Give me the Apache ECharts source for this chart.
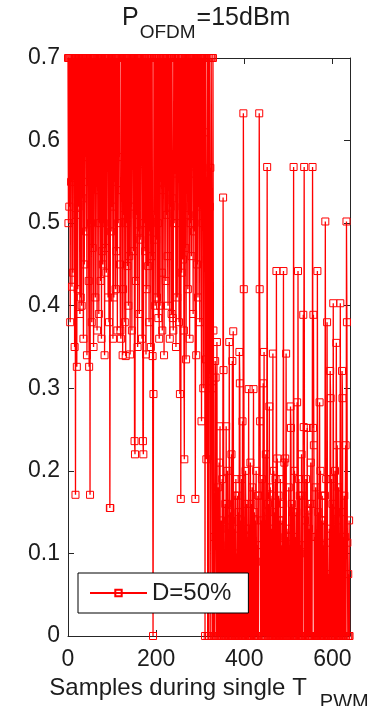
<!DOCTYPE html>
<html>
<head>
<meta charset="utf-8">
<script src="https://cdn.jsdelivr.net/npm/echarts@6/dist/echarts.min.js"></script>
<style>
html,body{margin:0;padding:0;background:#fff;overflow:hidden;}
#chart{width:378px;height:706px;}
</style>
</head>
<body>
<div id="chart"></div>
<script>
// Samples 0..325 (first part of the PWM period)
var firstPart = [
0.7,0.5,0.7,0.52,0.7,0.38,0.7,0.55,0.7,0.423,0.7,0.44,0.7,0.6,0.7,0.35,0.7,0.171,0.7,0.51,
0.326,0.7,0.42,0.7,0.52,0.7,0.7,0.39,0.7,0.41,0.7,0.40,0.7,0.53,0.7,0.36,0.7,0.45,0.7,0.58,
0.7,0.49,0.7,0.34,0.7,0.55,0.7,0.43,0.326,0.7,0.171,0.7,0.5,0.7,0.38,0.7,0.47,0.7,0.35,0.7,
0.56,0.7,0.41,0.7,0.6,0.7,0.37,0.7,0.54,0.7,0.39,0.7,0.5,0.7,0.43,0.7,0.36,0.7,0.466,0.45,
0.7,0.5,0.7,0.34,0.7,0.47,0.7,0.44,0.7,0.6,0.7,0.41,0.7,0.38,0.7,0.155,0.155,0.7,0.49,0.7,
0.52,0.7,0.36,0.7,0.41,0.7,0.55,0.7,0.42,0.7,0.466,0.7,0.37,0.7,0.5,0.7,0.58,0.7,0.45,0.37,
0.36,0.7,0.54,0.7,0.34,0.42,0.7,0.51,0.7,0.38,0.7,0.339,0.7,0.5,0.7,0.448,0.7,0.4,0.7,0.46,
0.7,0.341,0.7,0.52,0.7,0.37,0.7,0.57,0.7,0.466,0.7,0.236,0.22,0.7,0.43,0.7,0.51,0.7,0.35,0.7,
0.49,0.7,0.39,0.7,0.48,0.7,0.6,0.7,0.36,0.7,0.236,0.22,0.7,0.5,0.7,0.466,0.7,0.341,0.7,0.42,
0.7,0.52,0.448,0.7,0.38,0.7,0.49,0.7,0.35,0.7,0.46,0.7,0.339,0,0.293,0.7,0.51,0.7,0.4,0.7,
0.48,0.7,0.41,0.7,0.5,0.385,0.7,0.36,0.7,0.40,0.7,0.55,0.7,0.44,0.37,0.7,0.54,0.7,0.34,0.7,
0.58,0.7,0.43,0.7,0.51,0.7,0.46,0.40,0.7,0.55,0.7,0.36,0.7,0.52,0.7,0.39,0.7,0.53,0.385,0.37,
0.7,0.5,0.7,0.56,0.7,0.35,0.7,0.5,0.41,0.7,0.6,0.7,0.38,0.7,0.293,0.7,0.166,0.7,0.44,0.7,
0.52,0.456,0.7,0.37,0.214,0.7,0.47,0.7,0.335,0.7,0.55,0.7,0.42,0.7,0.51,0.7,0.36,0.7,0.5,0.7,
0.46,0.7,0.6,0.7,0.39,0.7,0.49,0.7,0.56,0.166,0.7,0.34,0.7,0.45,0.7,0.41,0.7,0.52,0.7,0.38,
0.7,0.55,0.7,0.26,0.7,0.5,0.7,0.3,0.7,0.61,0.7,0,0.7,0.335,0.214,0.456,0.7,0,0.457,0.7,
0,0.7,0.52,0.567,0,0.7
];
// Samples 326..639 (second part of the PWM period)
var secondPart = [
0.7,0.30,0,0.7,0.37,0,0.12,0,0.333,0.313,0.15,0,0.356,0,0.18,0.12,0,0.21,0,0.254,
0,0.14,0.13,0,0.19,0,0.531,0.322,0,0.1,0,0.16,0,0.254,0,0.16,0.2,0,0.11,0,
0.356,0,0.15,0,0.14,0.22,0,0.333,0,0.369,0,0.13,0,0.17,0,0.19,0,0.1,0,0.17,
0,0.15,0,0.344,0.306,0,0.14,0,0.19,0,0.26,0,0.633,0.42,0,0.12,0,0.2,0.13,0,
0.16,0,0.12,0,0.299,0,0.13,0,0.21,0,0.16,0,0.18,0,0.1,0.299,0,0.15,0,0.14,
0,0.2,0,0.11,0,0.17,0,0.17,0.633,0.42,0.26,0,0.14,0,0.19,0,0.09,0.306,0,0.344,
0,0.12,0,0.22,0,0.15,0.568,0,0.16,0,0.1,0.278,0,0.18,0,0.13,0,0.17,0,0.342,
0,0.2,0,0.15,0,0.19,0,0.442,0,0.215,0.12,0,0.17,0,0.14,0,0.19,0,0.11,0,
0.14,0,0.16,0.442,0,0.21,0,0.215,0,0.342,0,0.13,0,0.12,0,0.18,0,0.1,0,0.278,
0.252,0,0.16,0,0.15,0,0.568,0,0.2,0,0.12,0,0.15,0,0.283,0,0.442,0,0.19,0,
0.17,0,0.11,0,0.22,0,0.17,0,0.389,0.253,0.568,0,0.14,0,0.19,0,0.1,0.252,0,0.152,
0,0.13,0,0.16,0,0.21,0,0.16,0,0.568,0.252,0.389,0.231,0,0.12,0,0.18,0,0.12,0,
0.442,0,0.15,0,0.1,0.283,0,0.2,0,0.14,0,0.17,0,0.11,0,0.14,0,0.17,0.502,0,
0.19,0,0.38,0.113,0,0.075,0,0.13,0,0.321,0.288,0,0.19,0,0.16,0,0.403,0,0.12,0,
0.2,0,0.15,0.355,0,0.231,0.14,0,0.18,0,0.1,0,0.403,0,0.15,0,0.321,0.288,0,0.12,
0,0.17,0,0.12,0.231,0,0.502,0.38,0.113,0,0.075,0,0.14,0
];
var xTicks = [0, 200, 400, 600];
var yTicks = [0, 0.1, 0.2, 0.3, 0.4, 0.5, 0.6, 0.7];
var seriesName = 'D=50%';

var values = firstPart.concat(secondPart);
var seriesData = values.map(function (v, i) { return [i, v]; });

var FONT = 'Liberation Sans, Arial, Helvetica, sans-serif';
var axisColor = '#262626';
var textColor = '#1c1c1c';

var chart = echarts.init(document.getElementById('chart'), null, {renderer: 'canvas'});
var baseX = {
  type: 'value', min: 0, max: 640, interval: 200,
  splitLine: {show: false},
  axisLine: {show: true, onZero: false, lineStyle: {color: axisColor, width: 1}},
  axisTick: {show: true, inside: true, length: 6, lineStyle: {color: axisColor}},
  axisLabel: {show: false}
};
var baseY = {
  type: 'value', min: 0, max: 0.7, interval: 0.1,
  splitLine: {show: false},
  axisLine: {show: true, onZero: false, lineStyle: {color: axisColor, width: 1}},
  axisTick: {show: true, inside: true, length: 6, lineStyle: {color: axisColor}},
  axisLabel: {show: false}
};
var option = {
  animation: false,
  backgroundColor: '#fff',
  title: {
    text: '{a|P}{b|OFDM}{a|=15dBm}',
    left: 122, top: 6, padding: 0,
    textStyle: {
      fontWeight: 'normal',
      rich: {
        a: {fontFamily: FONT, fontSize: 25, fontWeight: 'normal', color: textColor, lineHeight: 28, verticalAlign: 'top'},
        b: {fontFamily: FONT, fontSize: 19, fontWeight: 'normal', color: textColor, lineHeight: 21, verticalAlign: 'top', padding: [17, 1, 0, 1]}
      }
    }
  },
  grid: {left: 68, right: 28, top: 58, bottom: 70, containLabel: false, outerBoundsMode: 'none'},
  legend: {
    left: 78, top: 573,
    backgroundColor: '#fff', borderColor: '#000', borderWidth: 1,
    padding: [8, 17, 8, 11],
    itemWidth: 57, itemHeight: 8, itemGap: 5,
    textStyle: {fontFamily: FONT, fontSize: 24, color: textColor},
    data: [seriesName]
  },
  xAxis: [
    Object.assign({}, baseX, {
      position: 'bottom',
      axisLabel: {show: true, fontFamily: FONT, fontSize: 23, color: textColor, margin: 12,
        showMaxLabel: false,
        formatter: function (v) { return xTicks.indexOf(v) >= 0 ? String(v) : ''; }},
      name: '{a|Samples during single T}{b|PWM}',
      nameLocation: 'middle', nameGap: 40,
      nameTextStyle: {
        rich: {
          a: {fontFamily: FONT, fontSize: 24, color: textColor, lineHeight: 27, verticalAlign: 'top'},
          b: {fontFamily: FONT, fontSize: 20, color: textColor, lineHeight: 22, verticalAlign: 'top', padding: [16, 0, 0, 13]}
        }
      }
    }),
    Object.assign({}, baseX, {position: 'top'})
  ],
  yAxis: [
    Object.assign({}, baseY, {
      position: 'left',
      axisLabel: {show: true, fontFamily: FONT, fontSize: 23, color: textColor, margin: 8,
        formatter: function (v) {
          for (var k = 0; k < yTicks.length; k++) { if (Math.abs(yTicks[k] - v) < 1e-9) return String(yTicks[k]); }
          return '';
        }}
    }),
    Object.assign({}, baseY, {position: 'right'})
  ],
  series: [{
    name: seriesName,
    type: 'line',
    xAxisIndex: 0, yAxisIndex: 0,
    data: seriesData,
    symbol: 'rect', symbolSize: 7,
    showSymbol: true, showAllSymbol: true,
    clip: false,
    color: '#ff0000',
    lineStyle: {color: '#ff0000', width: 1.3},
    itemStyle: {color: 'rgba(255,255,255,0)', borderColor: '#ff0000', borderWidth: 1},
    emphasis: {disabled: true}
  }]
};
chart.setOption(option);
</script>
</body>
</html>
